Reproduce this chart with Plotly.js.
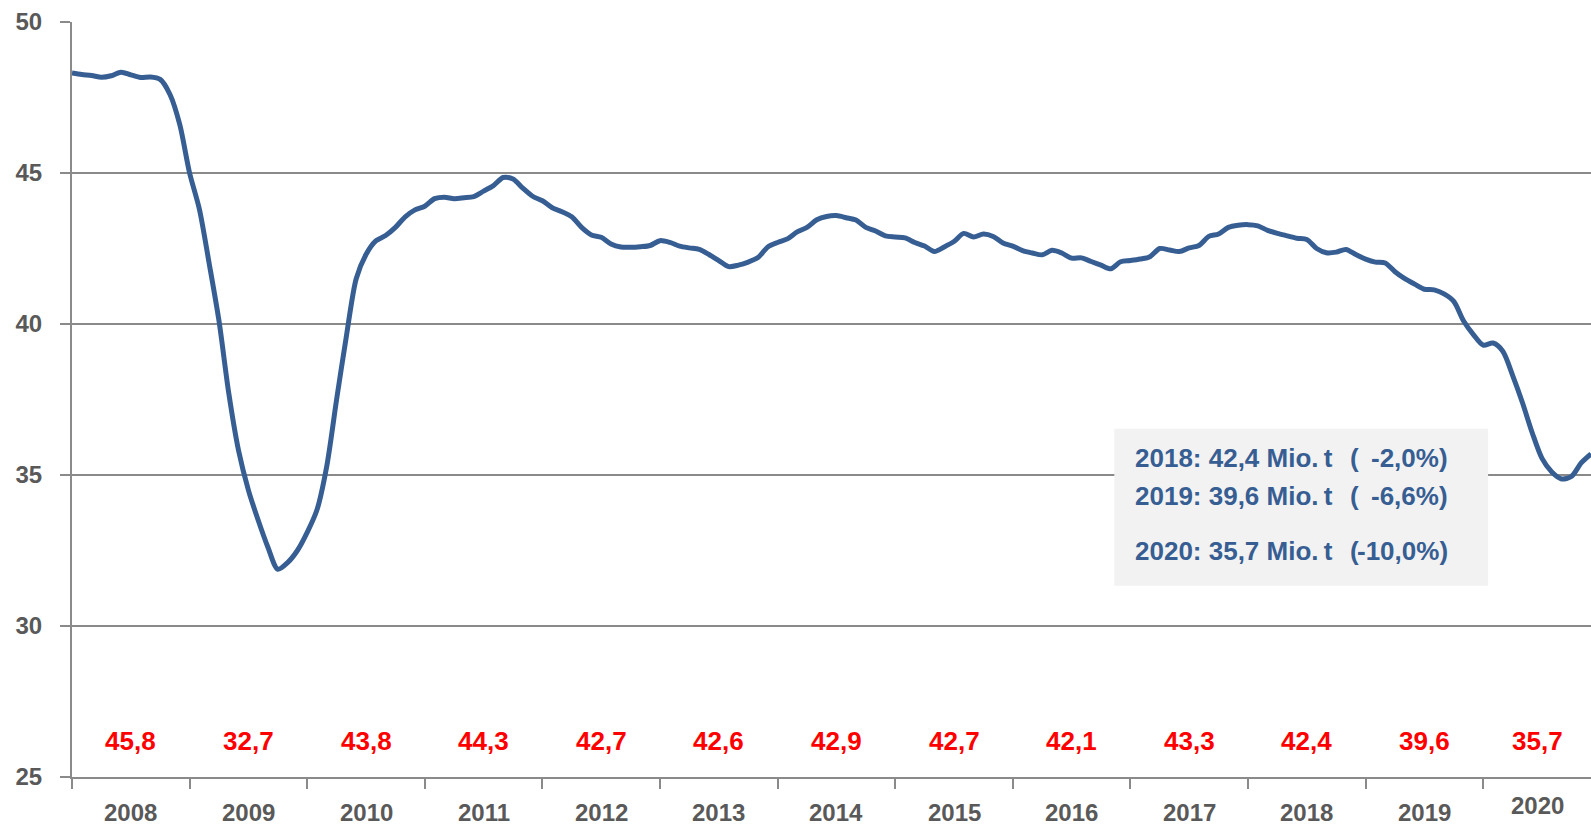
<!DOCTYPE html>
<html>
<head>
<meta charset="utf-8">
<script src="https://cdn.plot.ly/plotly-3.0.1.min.js"></script>
<style>
html,body{margin:0;padding:0;background:#fff;}
#chart{width:1591px;height:829px;}
</style>
</head>
<body>
<div id="chart"></div>
<script>
// Years shown on the x axis
const years = [2008,2009,2010,2011,2012,2013,2014,2015,2016,2017,2018,2019,2020];
// Annual totals (Mio. t) shown in red
const annualValues = ["45,8","32,7","43,8","44,3","42,7","42,6","42,9","42,7","42,1","43,3","42,4","39,6","35,7"];
// Monthly series, Jan 2008 .. Dec 2020 (Mio. t, annualised)
const monthlyValues = [
 48.31,48.26,48.23,48.17,48.22,48.34,48.25,48.16,48.18,48.10,47.60,46.60,
 45.00,43.80,42.00,40.10,37.70,35.80,34.50,33.50,32.60,31.88,32.10,32.50,
 33.10,33.85,35.30,37.50,39.60,41.50,42.30,42.75,42.93,43.20,43.55,43.78,
 43.90,44.15,44.20,44.15,44.18,44.22,44.40,44.58,44.85,44.80,44.50,44.23,
 44.08,43.85,43.72,43.55,43.20,42.95,42.87,42.65,42.55,42.54,42.56,42.60,
 42.76,42.70,42.58,42.52,42.47,42.30,42.10,41.90,41.95,42.05,42.20,42.55,
 42.70,42.82,43.05,43.20,43.45,43.56,43.59,43.52,43.44,43.20,43.08,42.92,
 42.88,42.85,42.70,42.58,42.40,42.55,42.73,43.00,42.88,42.98,42.90,42.68,
 42.58,42.43,42.35,42.29,42.44,42.35,42.18,42.19,42.07,41.95,41.83,42.06,
 42.10,42.15,42.23,42.50,42.45,42.40,42.52,42.60,42.90,42.98,43.20,43.27,
 43.29,43.25,43.10,43.00,42.92,42.84,42.80,42.50,42.36,42.38,42.47,42.30,
 42.15,42.05,42.02,41.73,41.50,41.32,41.15,41.13,41.00,40.75,40.10,39.65,
 39.30,39.37,39.10,38.30,37.40,36.40,35.55,35.10,34.87,34.95,35.40,35.70
];
// Info box
const boxYears = ["2018","2019","2020"];
const boxTotals = ["42,4","39,6","35,7"];
const boxChanges = ["-2,0%","-6,6%","-10,0%"];

const FONT = "'Liberation Sans',Arial,sans-serif";
const GREY = "#8a8a8a";
const TXT = "#595959";
const BLUE = "#375E93";

const xMonths = monthlyValues.map((v,i)=>i);
const lastX = monthlyValues.length - 1;

const trace = {
  x: xMonths, y: monthlyValues, type: 'scatter', mode: 'lines',
  line: {color: BLUE, width: 5, shape: 'spline', smoothing: 0.8},
  hoverinfo: 'skip', showlegend: false
};

const annotations = [];
years.forEach((yr,k)=>{
  const start = k*12;
  const end = Math.min(start+12, lastX);
  const cx = (start+end)/2;
  const partial = (start+12) > lastX;
  annotations.push({x: cx, y: -0.047, xref:'x', yref:'paper', text: String(yr), showarrow:false,
    font:{family:FONT, size:24, color:TXT, weight:'bold'}, xanchor:'center', yanchor:'middle',
    yshift: partial ? 7 : 0});
  annotations.push({x: cx, y: 26.18, xref:'x', yref:'y', text: annualValues[k], showarrow:false,
    font:{family:FONT, size:26, color:'#FF0000', weight:'bold'}, xanchor:'center', yanchor:'middle'});
});
const boxRowsY = [35.56, 34.29, 32.47];
boxYears.forEach((yr,i)=>{
  const f = {family:FONT, size:26, color:BLUE, weight:'bold'};
  annotations.push({x:108.3, y:boxRowsY[i], xref:'x', yref:'y', text: yr+": "+boxTotals[i]+" Mio.&#8201;t", showarrow:false,
    font:f, xanchor:'left', yanchor:'middle'});
  annotations.push({x:130.2, y:boxRowsY[i], xref:'x', yref:'y', text:"(", showarrow:false,
    font:f, xanchor:'left', yanchor:'middle'});
  annotations.push({x:140.6, y:boxRowsY[i], xref:'x', yref:'y', text:boxChanges[i]+")", showarrow:false,
    font:f, xanchor:'right', yanchor:'middle'});
});

const layout = {
  width:1591, height:829,
  margin:{l:72, r:0, t:22, b:52},
  paper_bgcolor:'#fff', plot_bgcolor:'#fff',
  showlegend:false,
  xaxis:{range:[0,155], tickvals:years.map((y,k)=>k*12), ticks:'outside', ticklen:10, tickwidth:2, tickcolor:GREY,
    showticklabels:false, showgrid:false, zeroline:false, showline:true, linecolor:GREY, linewidth:2, fixedrange:true},
  yaxis:{range:[25,50], dtick:5, tick0:25, ticks:'outside', ticklen:10, tickwidth:2, tickcolor:GREY,
    showgrid:true, gridcolor:GREY, gridwidth:2, zeroline:false, showline:true, linecolor:GREY, linewidth:2,
    tickfont:{family:FONT, size:24, color:TXT, weight:'bold'}, ticklabelstandoff:13, fixedrange:true},
  shapes:[{type:'rect', xref:'x', yref:'y', x0:106.36, x1:144.5, y0:31.33, y1:36.53,
    fillcolor:'#F2F2F2', line:{width:0}, layer:'above'}],
  annotations: annotations
};

Plotly.newPlot('chart', [trace], layout, {displayModeBar:false, staticPlot:true});
</script>
</body>
</html>
